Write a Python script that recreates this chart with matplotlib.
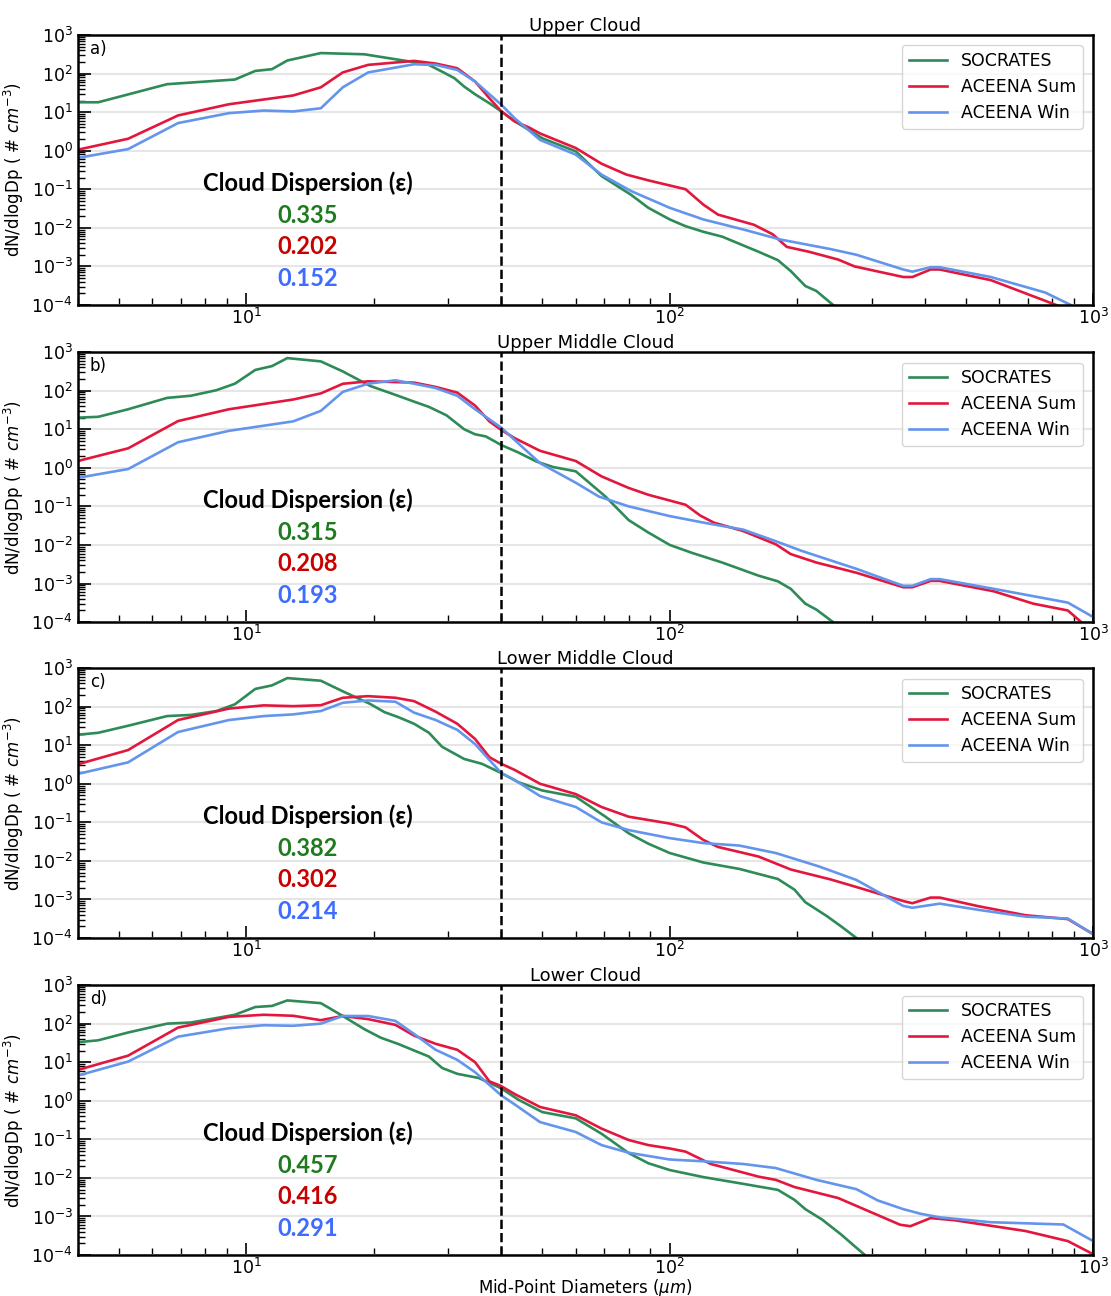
import matplotlib
matplotlib.use("Agg")
import matplotlib.pyplot as plt

# ---- data (x in um, y in # cm^-3) ----
titles = ["Upper Cloud", "Upper Middle Cloud", "Lower Middle Cloud", "Lower Cloud"]
panel_tags = ["a)", "b)", "c)", "d)"]
series_names = ["SOCRATES", "ACEENA Sum", "ACEENA Win"]
dispersion = [
    ["0.335", "0.202", "0.152"],
    ["0.315", "0.208", "0.193"],
    ["0.382", "0.302", "0.214"],
    ["0.457", "0.416", "0.291"],
]

# SOCRATES
soc_x_a = [4.0, 4.47, 6.5, 9.4, 10.5, 11.5, 12.5, 15, 19, 24.4, 27, 29, 31, 32.7, 34.7, 37.5, 40,
           43, 46.4, 50, 60, 69, 81, 89, 100, 109, 120, 133, 162, 180, 193, 209, 222, 243, 260]
soc_y_a = [18, 18, 53, 70, 117, 130, 218, 340, 316, 204, 167, 112, 76, 46, 29, 17, 10.5,
           5.8, 3.5, 2.1, 0.96, 0.22, 0.072, 0.033, 0.0165, 0.011, 0.0079, 0.0059, 0.0024, 0.00145,
           7.6e-4, 3.1e-4, 2.3e-4, 1e-4, 5e-5]

soc_x_b = [4.0, 4.47, 5.26, 6.5, 7.4, 8.5, 9.4, 10.5, 11.5, 12.5, 15, 16.9, 19.6, 22.8, 24.9, 27,
           29.7, 32.7, 34.7, 36.8, 40, 43.9, 48.4, 53, 60, 70.5, 80, 89, 100, 113, 133, 162, 180,
           193, 209, 222, 243, 260]
soc_y_b = [20, 21, 33, 65, 74, 103, 152, 345, 434, 700, 575, 316, 133, 74, 52, 38,
           23, 10, 7.4, 6.5, 3.9, 2.5, 1.46, 1.05, 0.81, 0.18, 0.044, 0.021, 0.01, 0.0062, 0.0035,
           0.0016, 0.00114, 7.3e-4, 3e-4, 2.1e-4, 1e-4, 5e-5]

soc_x_c = [4.0, 4.47, 5.26, 6.5, 7.4, 8.5, 9.4, 10.5, 11.5, 12.5, 15, 16.9, 19.6, 21.2, 22.8,
           24.9, 27, 29, 32.7, 36, 40, 43.9, 50, 60, 70.5, 80, 89, 100, 120, 146, 180, 197, 209,
           235, 254, 276, 290]
soc_y_c = [18.7, 21, 32, 57, 61, 77, 115, 288, 356, 550, 470, 250, 118, 72, 54,
           36, 21, 9.1, 4.4, 3.3, 1.9, 1.1, 0.67, 0.46, 0.14, 0.052, 0.028, 0.016, 0.0091, 0.0062,
           0.0034, 0.0018, 8.5e-4, 3.7e-4, 2e-4, 1e-4, 5e-5]

soc_x_d = [4.0, 4.47, 5.26, 6.5, 7.4, 9.4, 10.5, 11.5, 12.5, 15, 16.9, 19, 20.8, 22.8, 27, 29,
           31.5, 35.4, 40, 43.9, 50, 60, 69, 80, 89, 100, 120, 146, 180, 197, 209, 229, 254, 270,
           289, 300]
soc_y_d = [33, 37, 59, 100, 107, 170, 270, 288, 400, 340, 158, 72, 43, 30, 14, 7.1,
           5.0, 3.9, 2.1, 1.07, 0.51, 0.35, 0.14, 0.044, 0.024, 0.016, 0.0105, 0.0073, 0.0049,
           0.0027, 0.00155, 8.3e-4, 3.4e-4, 1.9e-4, 1e-4, 6e-5]

# ACEENA summer
sum_x_a = [4.0, 5.26, 6.9, 9.1, 12.9, 15, 16.9, 19.4, 24.9, 28, 31.5, 34.7, 37.5, 40, 43, 46.5,
           49.4, 60, 69, 79, 89, 109, 120, 130, 158, 175, 189, 213, 250, 273, 356, 374, 413, 434,
           573, 817, 900]
sum_y_a = [1.06, 2.04, 8.2, 16, 27, 44, 107, 168, 213, 182, 137, 62, 23, 10.5, 5.8, 4.0,
           2.8, 1.17, 0.46, 0.24, 0.17, 0.1, 0.04, 0.022, 0.012, 0.0068, 0.0032, 0.0024, 0.0015,
           0.001, 5.3e-4, 5.3e-4, 8.3e-4, 8.3e-4, 4.4e-4, 1e-4, 6e-5]

sum_x_b = [4.0, 5.26, 6.9, 9.1, 12.9, 15, 16.9, 19.4, 24.9, 28, 31.5, 34.7, 37.5, 40, 43, 49.4,
           60, 69, 80, 89, 109, 118, 127, 149, 178, 193, 222, 276, 356, 374, 413, 434, 582, 722,
           871, 937, 1000]
sum_y_b = [1.5, 3.2, 16.3, 33, 59, 85, 151, 175, 162, 125, 89, 41, 16, 9.6, 5.9, 2.76,
           1.5, 0.6, 0.3, 0.2, 0.11, 0.058, 0.038, 0.023, 0.0104, 0.0058, 0.0035, 0.0019, 8e-4,
           8e-4, 1.17e-3, 1.17e-3, 6.3e-4, 3e-4, 2e-4, 1e-4, 6e-5]

sum_x_c = [4.0, 5.26, 6.9, 9.1, 11, 12.9, 15, 16.9, 19.4, 22.5, 24.9, 28, 31.5, 34.7, 37.5, 40,
           43, 49.4, 60, 69, 80, 100, 109, 120, 130, 162, 193, 240, 276, 356, 374, 413, 434, 535,
           692, 871, 1000]
sum_y_c = [3.2, 7.5, 45, 89, 108, 103, 109, 170, 187, 170, 139, 74, 36, 14.5, 4.9, 3.3,
           2.3, 1.0, 0.54, 0.25, 0.14, 0.093, 0.074, 0.035, 0.023, 0.013, 0.006, 0.0033, 0.0021,
           9.1e-4, 8e-4, 1.12e-3, 1.12e-3, 6.7e-4, 3.9e-4, 3.1e-4, 1.26e-4]

sum_x_d = [4.0, 5.26, 6.9, 9.1, 11, 12.9, 15, 16.9, 19.4, 22.5, 24.9, 28, 31.5, 34.7, 37.5, 40,
           43, 49.4, 60, 69, 80, 89, 100, 109, 125, 162, 178, 197, 250, 350, 370, 413, 470, 692,
           871, 1000]
sum_y_d = [6.3, 14.8, 79, 150, 170, 160, 123, 158, 131, 93, 49, 30, 21, 10, 3.2, 2.4,
           1.5, 0.69, 0.42, 0.19, 0.096, 0.071, 0.058, 0.048, 0.023, 0.0108, 0.0089, 0.0058,
           0.003, 6.1e-4, 5.6e-4, 9.1e-4, 8e-4, 4.2e-4, 2.3e-4, 1.05e-4]

# ACEENA winter
win_x_a = [4.0, 5.26, 6.9, 9.1, 11, 12.9, 15, 16.9, 19.4, 24.9, 28, 31.5, 34.7, 40, 43, 49.4,
           60, 69, 81, 100, 120, 149, 182, 240, 276, 356, 374, 413, 434, 573, 770, 885, 950]
win_y_a = [0.65, 1.1, 5.2, 9.4, 11, 10.4, 12.6, 44, 107, 174, 168, 124, 62, 15.6, 7.0, 1.9,
           0.79, 0.24, 0.09, 0.033, 0.0165, 0.0091, 0.005, 0.0028, 0.002, 8.3e-4, 7.3e-4, 9.5e-4,
           9.5e-4, 5.3e-4, 2.1e-4, 1e-4, 6e-5]

win_x_b = [4.0, 5.26, 6.9, 9.1, 12.9, 15, 16.9, 19.4, 22.5, 24.9, 28, 31.5, 34.7, 40, 43, 49.4,
           60, 68, 80, 100, 120, 149, 178, 205, 276, 356, 374, 413, 434, 602, 871, 1000]
win_y_b = [0.55, 0.93, 4.6, 9.1, 16, 30, 93, 152, 186, 152, 117, 74, 33, 11, 5.3, 1.32,
           0.41, 0.18, 0.1, 0.056, 0.038, 0.025, 0.0125, 0.007, 0.0024, 8.7e-4, 8.7e-4, 1.3e-3,
           1.3e-3, 6.8e-4, 3.2e-4, 1.35e-4]

win_x_c = [4.0, 5.26, 6.9, 9.1, 11, 12.9, 15, 16.9, 19.4, 22.5, 24.9, 28, 31.5, 34.7, 40, 43,
           49.4, 60, 69, 80, 100, 120, 146, 178, 225, 276, 356, 374, 434, 535, 692, 871, 1000]
win_y_c = [1.8, 3.6, 22, 45, 57, 63, 77, 126, 145, 134, 70, 45, 25, 10.7, 1.9, 1.26,
           0.48, 0.25, 0.1, 0.063, 0.039, 0.029, 0.025, 0.016, 0.0072, 0.0032, 6.8e-4, 6.1e-4,
           7.8e-4, 5.4e-4, 3.6e-4, 3.2e-4, 1.26e-4]

win_x_d = [4.0, 5.26, 6.9, 9.1, 11, 12.9, 15, 16.9, 19.4, 22.5, 24.9, 28, 31.5, 34.7, 40, 43,
           49.4, 60, 69, 80, 100, 120, 149, 178, 222, 276, 310, 356, 392, 434, 573, 710, 850, 1000]
win_y_d = [4.5, 10.4, 46, 76, 91, 88, 100, 158, 158, 118, 54, 21, 11.5, 5.5, 1.38, 0.81,
           0.28, 0.155, 0.071, 0.045, 0.03, 0.027, 0.023, 0.018, 0.0089, 0.0051, 0.0026, 0.00155,
           0.00117, 9.5e-4, 7.1e-4, 6.6e-4, 6.2e-4, 2.3e-4]

soc_x = [soc_x_a, soc_x_b, soc_x_c, soc_x_d]
soc_y = [soc_y_a, soc_y_b, soc_y_c, soc_y_d]
sum_x = [sum_x_a, sum_x_b, sum_x_c, sum_x_d]
sum_y = [sum_y_a, sum_y_b, sum_y_c, sum_y_d]
win_x = [win_x_a, win_x_b, win_x_c, win_x_d]
win_y = [win_y_a, win_y_b, win_y_c, win_y_d]

line_colors = ["#2e8b57", "#e3173e", "#6495ed"]
text_colors = ["#1e7b1e", "#c80000", "#3d6cff"]
cutoff = 40  # um

fig = plt.figure(figsize=(11.11, 12.96), dpi=100)
bottoms = [0.7647, 0.5200, 0.2762, 0.0316]

for i in range(4):
    ax = fig.add_axes([0.070, bottoms[i], 0.914, 0.2083])
    ax.plot(soc_x[i], soc_y[i], color=line_colors[0], lw=1.9, label=series_names[0])
    ax.plot(sum_x[i], sum_y[i], color=line_colors[1], lw=1.9, label=series_names[1])
    ax.plot(win_x[i], win_y[i], color=line_colors[2], lw=1.9, label=series_names[2])
    ax.axvline(cutoff, color="black", ls="--", lw=1.8)

    ax.set_xscale("log")
    ax.set_yscale("log")
    ax.set_xlim(4, 1000)
    ax.set_ylim(1e-4, 1e3)
    ax.set_yticks([10.0 ** k for k in range(-4, 4)])
    ax.grid(True, axis="y", which="major", color="#e6e6e6", lw=1.5)
    ax.set_axisbelow(True)

    ax.tick_params(axis="both", which="both", direction="in", labelsize=12.5)
    ax.tick_params(axis="x", which="major", pad=2)
    ax.tick_params(axis="both", which="major", length=9, width=1.2)
    ax.tick_params(axis="both", which="minor", length=5, width=1.0)
    for sp in ax.spines.values():
        sp.set_linewidth(1.8)

    ax.set_ylabel(r"dN/dlogDp ( # $cm^{-3}$)", fontsize=12)
    ax.set_title(titles[i], fontsize=13, pad=3)
    ax.text(0.012, 0.93, panel_tags[i], transform=ax.transAxes, fontsize=12)
    ax.legend(loc="upper right", fontsize=12.5, borderaxespad=0.6, handlelength=2.2,
              labelspacing=0.45)

    ax.text(0.2266, 0.452, "Cloud Dispersion (\u03b5)", transform=ax.transAxes,
            ha="center", va="center", fontsize=17, fontweight="bold", family="Lato")
    for k in range(3):
        ax.text(0.2266, 0.333 - 0.117 * k, dispersion[i][k], transform=ax.transAxes,
                ha="center", va="center", fontsize=17, fontweight="bold",
                color=text_colors[k], family="Lato")

ax.set_xlabel(r"Mid-Point Diameters ($\mu m$)", fontsize=12, labelpad=-1)

fig.savefig("out.png", dpi=100)
